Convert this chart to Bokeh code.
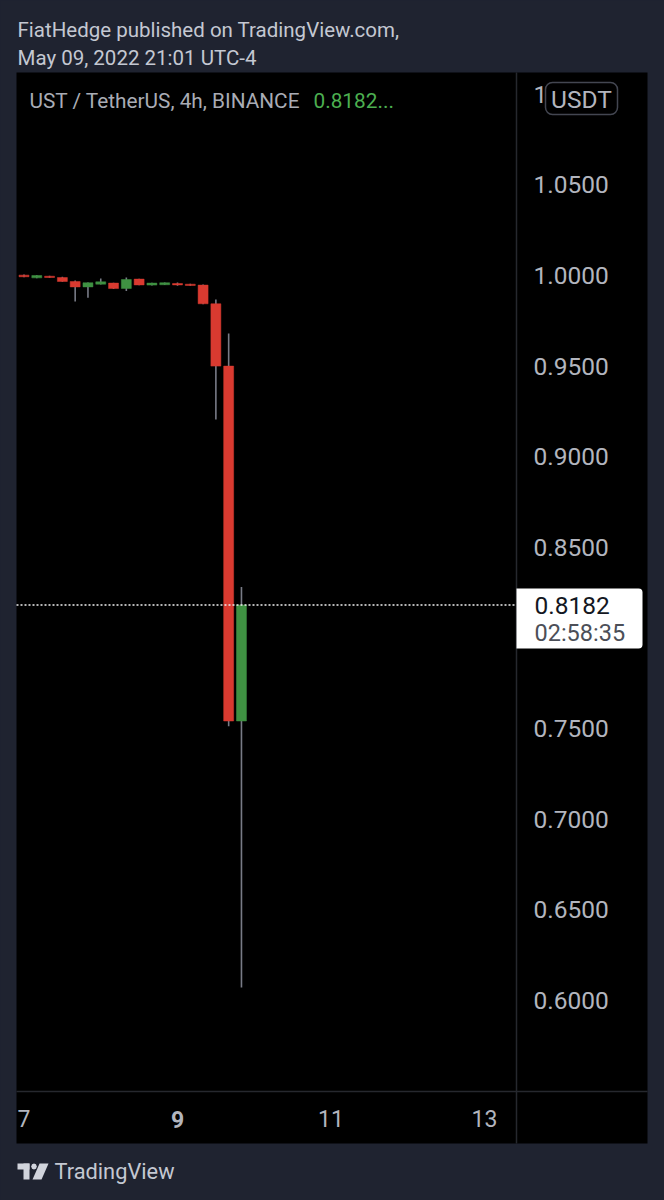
from bokeh.plotting import figure
from bokeh.models import Range1d, LinearAxis, FixedTicker, PrintfTickFormatter, Label, BoxAnnotation, PolyAnnotation
from bokeh.embed import file_html
from bokeh.resources import INLINE

# candle time in days of May 2022 (4h bars)
days = [7 + i / 6 for i in range(18)]
opens = [1.0002, 0.9987, 0.9996, 0.9989, 0.9967, 0.9937, 0.9952, 0.9958, 0.9928,
         0.9980, 0.9947, 0.9949, 0.9956, 0.9952, 0.9947, 0.9844, 0.9500, 0.7542]
closes = [0.9993, 1.0000, 0.9989, 0.9967, 0.9937, 0.9960, 0.9965, 0.9928, 0.9978,
          0.9948, 0.9958, 0.9960, 0.9948, 0.9945, 0.9844, 0.9500, 0.7542, 0.8182]
highs = [1.0005, 1.0002, 0.9998, 0.9993, 0.9972, 0.9962, 0.9983, 0.9960, 0.9989,
         0.9982, 0.9960, 0.9962, 0.9961, 0.9954, 0.9950, 0.9868, 0.9680, 0.8281]
lows = [0.9990, 0.9985, 0.9987, 0.9965, 0.9857, 0.9877, 0.9950, 0.9926, 0.9914,
        0.9946, 0.9945, 0.9947, 0.9943, 0.9943, 0.9842, 0.9205, 0.7513, 0.6072]
price_ticks = [0.60, 0.65, 0.70, 0.75, 0.85, 0.90, 0.95, 1.00, 1.05, 1.10]
day_ticks = [7, 11, 13]
bold_day = 9
last_price = 0.8182

BG = "#1f2330"
TEXT = "#b2b5be"
LINE = "#26282e"
RED = "#d93a30"
GREEN = "#3f9142"
WICK = "#787b86"
FONT = "Roboto"

# the frame fills the whole page; these helpers turn page pixels into data values
XL, XR = 6.6938, 15.3453
YB, YT = 0.48966, 1.15172
W, H = 664, 1200


def X(px):
    return XL + (XR - XL) * px / W


def Y(py):
    return YT - (YT - YB) * py / H


p = figure(width=W, height=H, output_backend="svg", toolbar_location=None,
           x_range=Range1d(XL, XR), y_range=Range1d(YB, YT),
           x_axis_location=None, y_axis_location=None,
           min_border_left=0, min_border_right=0, min_border_top=0, min_border_bottom=0)
p.background_fill_color = BG
p.border_fill_color = BG
p.outline_line_color = None
p.grid.visible = False


def box(x0, y0, x1, y1, fill, level="underlay", **kw):
    p.add_layout(BoxAnnotation(left=x0, right=x1, top=y0, bottom=y1,
                               left_units="canvas", right_units="canvas",
                               top_units="canvas", bottom_units="canvas",
                               fill_color=fill, fill_alpha=1, level=level,
                               line_color=kw.pop("line", None), line_alpha=1, **kw))


def text(x, y, s, size, color=TEXT, align="left", style="normal", font=FONT):
    p.add_layout(Label(x=x, y=y, x_units="canvas", y_units="canvas", text=s,
                       text_font=font, text_font_size=f"{size}px", text_color=color,
                       text_align=align, text_baseline="middle", text_font_style=style,
                       level="overlay"))


# black chart panel
box(16, 72, 647, 1143, "#000000")

# candles
up = [c >= o for o, c in zip(opens, closes)]
colors = [GREEN if u else RED for u in up]
p.segment(days, lows, days, highs, line_color=WICK, line_width=1.6)
p.vbar(x=days, width=0.13, bottom=[min(o, c) for o, c in zip(opens, closes)],
       top=[max(o, c) for o, c in zip(opens, closes)], fill_color=colors, line_color=colors, line_width=0.5)

# last price line
p.segment([X(16)], [last_price], [X(516)], [last_price], line_color="#f0f0f0",
          line_dash="2 2", line_width=1.5)

# axes, pinned at the divider lines
ry = LinearAxis(ticker=FixedTicker(ticks=price_ticks), formatter=PrintfTickFormatter(format="%.4f"),
                fixed_location=X(516), bounds=(Y(1143), Y(72)))
ry.major_tick_line_color = None
ry.minor_tick_line_color = None
ry.axis_line_color = LINE
ry.axis_line_width = 1.5
ry.major_label_text_color = TEXT
ry.major_label_text_font = FONT
ry.major_label_text_font_size = "24.5px"
ry.major_label_standoff = 11
p.add_layout(ry, "right")

bx = LinearAxis(ticker=FixedTicker(ticks=day_ticks + [bold_day]),
                major_label_overrides={bold_day: " "},
                fixed_location=Y(1091), bounds=(X(16), X(647)))
bx.major_tick_line_color = None
bx.minor_tick_line_color = None
bx.axis_line_color = LINE
bx.axis_line_width = 1.5
bx.major_label_text_color = TEXT
bx.major_label_text_font = FONT
bx.major_label_text_font_size = "23px"
bx.major_label_standoff = 8
p.add_layout(bx, "below")
p.add_layout(Label(x=bold_day, y=1119, x_units="data", y_units="canvas", text=str(bold_day),
                   text_font=FONT, text_font_size="23px", text_font_style="bold", text_color=TEXT,
                   text_align="center", text_baseline="middle", level="overlay"))

# currency button
box(545, 82, 617, 114, "#000000", level="annotation", line="#434651", line_width=1.5, border_radius=7)
text(581, 99, "USDT", 24.5, align="center")

# price tag
box(516, 588, 642, 648, "#ffffff", level="annotation",
    border_radius=dict(top_left=0, top_right=4, bottom_right=4, bottom_left=0))
text(534, 605, f"{last_price:.4f}", 24.5, "#131722")
text(534, 632, "02:58:35", 23.5, "#4c4f58")

# header
text(17, 29, "FiatHedge published on TradingView.com,", 20.5, "#c4c8d2")
text(17, 57, "May 09, 2022 21:01 UTC-4", 20.5, "#c4c8d2")
text(29, 100, "UST / TetherUS, 4h, BINANCE", 20.8, "#a9acb5")
text(313, 100, "0.8182...", 20.8, "#4caf50")

# footer logo and name
LOGO = "#d1d4dc"
box(17, 1163, 29, 1169, LOGO, level="annotation")
box(23, 1163, 29, 1179, LOGO, level="annotation")
p.add_layout(PolyAnnotation(xs=[39, 48, 41, 32], ys=[1163, 1163, 1179, 1179], xs_units="canvas", ys_units="canvas",
                            fill_color=LOGO, fill_alpha=1, line_color=None, level="annotation"))
p.add_layout(PolyAnnotation(xs=[33.5, 35.5, 36.3, 35.5, 33.5, 31.5, 30.7, 31.5], ys=[1163, 1163.8, 1166, 1168.2, 1169, 1168.2, 1166, 1163.8],
                            xs_units="canvas", ys_units="canvas",
                            fill_color=LOGO, fill_alpha=1, line_color=None, level="annotation"))
text(54, 1171, "TradingView", 21.8, "#c4c8d2")

html = file_html(p, INLINE)
html = html.replace("</head>", f"<style>html,body{{background:{BG};}}</style></head>", 1)
open("out.html", "w").write(html)
